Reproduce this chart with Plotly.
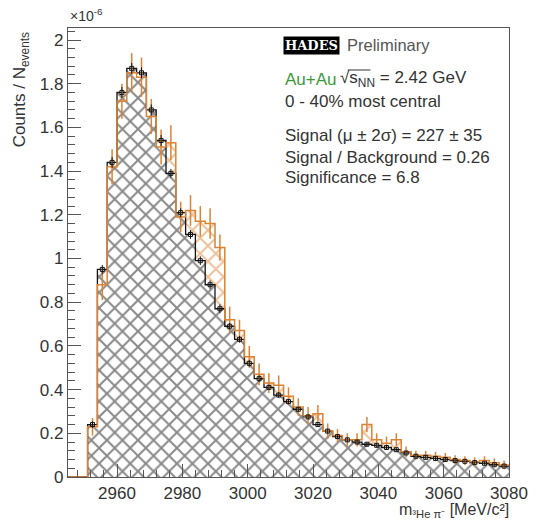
import numpy as np
import plotly.graph_objects as go

# Invariant-mass binning (MeV/c^2)
bin_low = 2945.0
bin_width = 3.0

# Same-event spectrum, counts per event (units of 1e-6)
same_event = [0, 0, 0.23, 0.88, 1.42, 1.72, 1.85, 1.83, 1.65, 1.51,
              1.53, 1.19, 1.22, 1.17, 1.16, 1.05, 0.72, 0.67, 0.55, 0.47,
              0.43, 0.42, 0.37, 0.32, 0.28, 0.29, 0.21, 0.19, 0.17, 0.17,
              0.24, 0.17, 0.155, 0.17, 0.115, 0.10, 0.10, 0.095, 0.09, 0.08,
              0.075, 0.07, 0.075, 0.065, 0.055]
same_event_err = [0, 0, 0.04, 0.07, 0.08, 0.08, 0.09, 0.09, 0.08, 0.08,
                  0.08, 0.07, 0.07, 0.07, 0.07, 0.06, 0.06, 0.05, 0.05, 0.05,
                  0.045, 0.045, 0.04, 0.04, 0.04, 0.04, 0.035, 0.03, 0.03, 0.03,
                  0.035, 0.03, 0.03, 0.03, 0.025, 0.02, 0.02, 0.02, 0.02, 0.02,
                  0.02, 0.02, 0.02, 0.02, 0.02]

# Mixed-event background, counts per event (units of 1e-6)
mixed_event = [0, 0, 0.24, 0.95, 1.44, 1.76, 1.87, 1.85, 1.68, 1.54,
               1.39, 1.21, 1.11, 0.99, 0.88, 0.77, 0.69, 0.63, 0.52, 0.45,
               0.41, 0.375, 0.345, 0.31, 0.275, 0.24, 0.21, 0.185, 0.17, 0.16,
               0.15, 0.145, 0.135, 0.125, 0.11, 0.095, 0.09, 0.085, 0.08, 0.075,
               0.072, 0.066, 0.063, 0.056, 0.05]
mixed_event_err = [0, 0, 0.015, 0.02, 0.025, 0.025, 0.025, 0.025, 0.025, 0.025,
                   0.02, 0.02, 0.02, 0.02, 0.02, 0.02, 0.015, 0.015, 0.015, 0.015,
                   0.012, 0.012, 0.012, 0.01, 0.01, 0.01, 0.01, 0.01, 0.01, 0.01,
                   0.008, 0.008, 0.008, 0.008, 0.008, 0.007, 0.007, 0.007, 0.007, 0.007,
                   0.006, 0.006, 0.006, 0.006, 0.006]

x_ticks = [2960, 2980, 3000, 3020, 3040, 3060, 3080]
y_ticks = [0, 0.2, 0.4, 0.6, 0.8, 1.0, 1.2, 1.4, 1.6, 1.8, 2.0]

info_lines = ["0 - 40% most central",
              "Signal (\u03bc \u00b1 2\u03c3) = 227 \u00b1 35",
              "Signal / Background = 0.26",
              "Significance = 6.8"]

ORANGE = "#dc8334"
DARK = "#141414"
TEXT = "#333333"
FONT = "Liberation Sans, Arial, Helvetica, sans-serif"

n_bins = len(same_event)
edges = bin_low + bin_width * np.arange(n_bins + 1)
centers = edges[:-1] + bin_width / 2


def step_y(vals):
    return list(vals) + [vals[-1]]


# frame geometry in pixels
W, H = 540, 522
L, R, T, B = 68, 517, 28, 477


def px(x):
    return (x - L) / (R - L)


def py(y):
    return (B - y) / (B - T)


fig = go.Figure()

# hatched same-event area
fig.add_trace(go.Scatter(
    x=edges, y=step_y(same_event), mode="lines", line=dict(width=0, shape="hv"),
    fill="tozeroy", fillcolor=ORANGE,
    fillpattern=dict(shape="x", size=11, solidity=0.33, fgcolor=ORANGE, bgcolor="white"),
    hoverinfo="skip", showlegend=False))

# hatched mixed-event area (drawn over the same-event area)
fig.add_trace(go.Scatter(
    x=edges, y=step_y(mixed_event), mode="lines", line=dict(width=0, shape="hv"),
    fill="tozeroy", fillcolor=DARK,
    fillpattern=dict(shape="x", size=11, solidity=0.33, fgcolor=DARK, bgcolor="white"),
    hoverinfo="skip", showlegend=False))

# histogram outlines
fig.add_trace(go.Scatter(
    x=edges, y=step_y(mixed_event), mode="lines",
    line=dict(color=DARK, width=1.3, shape="hv"), showlegend=False))
fig.add_trace(go.Scatter(
    x=edges, y=step_y(same_event), mode="lines",
    line=dict(color=ORANGE, width=1.5, shape="hv"), showlegend=False))

# error bars
nz = [i for i in range(n_bins) if same_event[i] > 0]
fig.add_trace(go.Scatter(
    x=centers[nz], y=[same_event[i] for i in nz], mode="markers",
    marker=dict(size=1, color=ORANGE),
    error_y=dict(type="data", array=[same_event_err[i] for i in nz],
                 color=ORANGE, thickness=1.5, width=0),
    showlegend=False))
nzb = [i for i in range(n_bins) if mixed_event[i] > 0]
fig.add_trace(go.Scatter(
    x=centers[nzb], y=[mixed_event[i] for i in nzb], mode="markers",
    marker=dict(symbol="square-open", size=4, color=DARK, line=dict(width=1)),
    error_y=dict(type="data", array=[mixed_event_err[i] for i in nzb],
                 color=DARK, thickness=1, width=0),
    showlegend=False))

axis_common = dict(
    showgrid=False, zeroline=False, showline=True, linecolor="#555555", linewidth=1.3,
    mirror=True, ticks="inside", ticklen=13, tickwidth=1.2, tickcolor="#555555",
    tickfont=dict(family=FONT, size=17, color=TEXT),
)

fig.update_layout(
    width=W, height=H,
    margin=dict(l=L, r=W - R, t=T, b=H - B),
    paper_bgcolor="white", plot_bgcolor="white",
    xaxis=dict(range=[bin_low, 3080], tickvals=x_ticks,
               minor=dict(dtick=4, ticks="inside", ticklen=7, tickcolor="#555555"),
               **axis_common),
    yaxis=dict(range=[0, 2.055], tickvals=y_ticks, ticktext=[f"{v:g}" for v in y_ticks],
               minor=dict(dtick=0.04, ticks="inside", ticklen=7, tickcolor="#555555"),
               **axis_common),
)

ann = []
# axis titles and exponent
ann.append(dict(x=px(20), y=py(30), xref="paper", yref="paper", textangle=-90,
                text="Counts / N<sub>events</sub>", xanchor="center", yanchor="top",
                showarrow=False, font=dict(family=FONT, size=17, color=TEXT)))
ann.append(dict(x=px(68), y=py(15), xref="paper", yref="paper",
                text="\u00d710<sup>-6</sup>", xanchor="left", yanchor="middle",
                showarrow=False, font=dict(family=FONT, size=14, color=TEXT)))
ann.append(dict(x=px(519), y=py(510), xref="paper", yref="paper",
                text="m<sub>\u00b3He \u03c0\u207b</sub> [MeV/c\u00b2]",
                xanchor="right", yanchor="middle",
                showarrow=False, font=dict(family=FONT, size=16, color=TEXT)))

# logo and labels
x0 = 287
ann.append(dict(x=px(x0 + 29), y=py(45), xref="paper", yref="paper",
                text="<b>HADES</b>", xanchor="center", yanchor="middle",
                showarrow=False, bgcolor="black", borderpad=1,
                font=dict(family="DejaVu Serif, serif", size=13, color="white")))
ann.append(dict(x=px(350), y=py(45), xref="paper", yref="paper",
                text="Preliminary", xanchor="left", yanchor="middle",
                showarrow=False, font=dict(family=FONT, size=16.5, color="#555555")))
ann.append(dict(x=px(x0), y=py(79), xref="paper", yref="paper",
                text="Au+Au", xanchor="left", yanchor="middle",
                showarrow=False, font=dict(family=FONT, size=17, color="#3a9a3a")))
ann.append(dict(x=px(343), y=py(79), xref="paper", yref="paper",
                text="\u221as<sub>NN</sub> = 2.42 GeV", xanchor="left", yanchor="middle",
                showarrow=False, font=dict(family=FONT, size=17, color=TEXT)))
for yy, line in zip([102, 136, 157, 178], info_lines):
    ann.append(dict(x=px(x0), y=py(yy), xref="paper", yref="paper",
                    text=line, xanchor="left", yanchor="middle",
                    showarrow=False, font=dict(family=FONT, size=17, color=TEXT)))
fig.update_layout(annotations=ann)

# radical bar over s_NN
fig.add_shape(type="line", xref="paper", yref="paper",
              x0=px(353), x1=px(376), y0=py(70), y1=py(70),
              line=dict(color=TEXT, width=1))

fig.write_html("out.html")
